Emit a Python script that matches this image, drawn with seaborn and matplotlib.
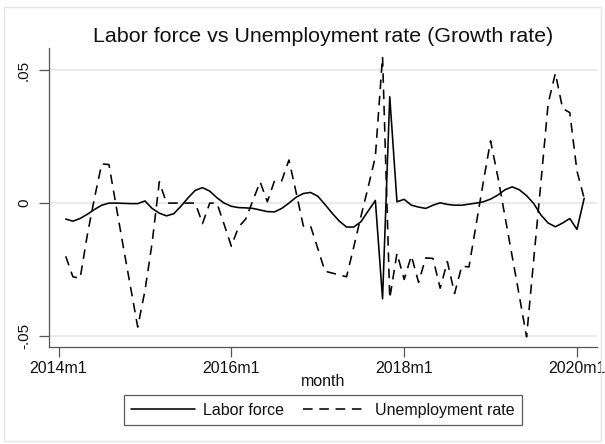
import numpy as np
import pandas as pd
import matplotlib
matplotlib.use("Agg")
import matplotlib.pyplot as plt
from matplotlib.lines import Line2D
from matplotlib.patches import Rectangle
import seaborn as sns

# Monthly growth rates, 2014m2 .. 2020m2 (month index counted from 2014m1 = 0)
month_index = list(range(1, 74))

labor_force = [
    -0.0060, -0.0068, -0.0058, -0.0042, -0.0024, -0.0008, 0.0000, 0.0000,
    -0.0001, -0.0002, -0.0002, 0.0008, -0.0020, -0.0038, -0.0048, -0.0040,
    -0.0012, 0.0020, 0.0048, 0.0058, 0.0045, 0.0020, 0.0000, -0.0012,
    -0.0017, -0.0018, -0.0020, -0.0026, -0.0032, -0.0033, -0.0020, 0.0000,
    0.0022, 0.0036, 0.0040, 0.0026, -0.0005, -0.0038, -0.0068, -0.0090,
    -0.0090, -0.0070, -0.0030, 0.0010, -0.0360, 0.0400, 0.0005, 0.0014,
    -0.0008, -0.0015, -0.0020, -0.0008, 0.0001, -0.0005, -0.0008, -0.0008,
    -0.0004, 0.0000, 0.0005, 0.0015, 0.0030, 0.0050, 0.0061, 0.0050,
    0.0028, -0.0002, -0.0045, -0.0075, -0.0089, -0.0075, -0.0058, -0.0099,
    0.0018,
]

unemployment_rate = [
    -0.0200, -0.0277, -0.0283, -0.0120, 0.0020, 0.0147, 0.0145, -0.0010,
    -0.0165, -0.0315, -0.0466, -0.0330, -0.0150, 0.0080, 0.0000, 0.0000,
    0.0000, 0.0000, 0.0000, -0.0077, 0.0000, 0.0000, -0.0080, -0.0162,
    -0.0090, -0.0060, 0.0010, 0.0080, 0.0005, 0.0084, 0.0084, 0.0162,
    0.0040, -0.0086, -0.0086, -0.0170, -0.0256, -0.0263, -0.0270, -0.0277,
    -0.0165, -0.0050, 0.0060, 0.0174, 0.0550, -0.0358, -0.0189, -0.0287,
    -0.0198, -0.0298, -0.0206, -0.0208, -0.0320, -0.0220, -0.0340, -0.0237,
    -0.0240, -0.0080, 0.0080, 0.0234, 0.0100, -0.0050, -0.0200, -0.0350,
    -0.0503, -0.0210, 0.0080, 0.0375, 0.0488, 0.0356, 0.0340, 0.0120,
    0.0018,
]

series_names = ["Labor force", "Unemployment rate"]
x_tick_pos = [0, 24, 48, 72]
x_tick_labels = ["2014m1", "2016m1", "2018m1", "2020m1"]
y_tick_pos = [-0.05, 0.0, 0.05]
y_tick_labels = ["-.05", "0", ".05"]

df = pd.DataFrame({
    "month": month_index * 2,
    "value": labor_force + unemployment_rate,
    "series": [series_names[0]] * len(month_index) + [series_names[1]] * len(month_index),
})

sns.set_theme(style="white")
plt.rcParams["font.family"] = ["Liberation Sans", "DejaVu Sans"]

W, H = 605, 444
fig = plt.figure(figsize=(W / 100, H / 100), dpi=100)
fig.patch.set_facecolor("white")

# light outer frame of the graph region
fig.add_artist(Rectangle((4 / W, 1 - 441 / H), (601 - 4) / W, (441 - 7) / H,
                         transform=fig.transFigure, fill=False,
                         edgecolor="#e6e6e6", linewidth=1.0))

ax_l, ax_r, ax_t, ax_b = 49, 597, 48, 347
ax = fig.add_axes([ax_l / W, 1 - ax_b / H, (ax_r - ax_l) / W, (ax_b - ax_t) / H])

dash_map = {series_names[0]: "", series_names[1]: (6.0, 4.2)}
sns.lineplot(data=df, x="month", y="value", style="series", dashes=dash_map,
             color="black", linewidth=1.15, ax=ax, legend=False, zorder=3)

ax.set_xlim(-1.32, 74.78)
ax.set_ylim(-0.0541, 0.0583)

ax.set_xticks(x_tick_pos)
ax.set_xticklabels(x_tick_labels, fontsize=11.5, color="#111111")
ax.set_yticks(y_tick_pos)
ax.set_yticklabels(y_tick_labels, fontsize=11, rotation=90, va="center",
                   color="#111111")

ax.tick_params(axis="both", which="major", direction="out", length=7,
               width=0.9, color="#555555", bottom=True, left=True)
ax.tick_params(axis="x", pad=3)
ax.tick_params(axis="y", pad=6)

for yv in y_tick_pos:
    ax.axhline(yv, color="#e8e8e8", linewidth=1.3, zorder=1)

for side in ["top", "right"]:
    ax.spines[side].set_visible(False)
for side in ["left", "bottom"]:
    ax.spines[side].set_color("#555555")
    ax.spines[side].set_linewidth(0.9)

ax.set_xlabel("")
ax.set_ylabel("")

cx = ((ax_l + ax_r) / 2) / W
fig.text(cx, 1 - 37 / H, "Labor force vs Unemployment rate (Growth rate)",
         ha="center", va="center", fontsize=15.4, color="#111111")
fig.text(cx, 1 - 381 / H, "month", ha="center", va="center", fontsize=11.5,
         color="#111111")

handles = [
    Line2D([], [], color="black", linewidth=1.15, linestyle="-"),
    Line2D([], [], color="black", linewidth=1.15, linestyle=(0, (6.0, 4.2))),
]
leg = fig.legend(handles, series_names, loc="center",
                 bbox_to_anchor=(cx, 1 - 410 / H), ncol=2, fontsize=11.5,
                 frameon=True, fancybox=False, handlelength=4.0,
                 handletextpad=0.5, columnspacing=1.2, borderpad=0.45,
                 borderaxespad=0)
leg.get_frame().set_edgecolor("#333333")
leg.get_frame().set_linewidth(0.9)
for t in leg.get_texts():
    t.set_color("#111111")

fig.savefig("out.png", dpi=100)
